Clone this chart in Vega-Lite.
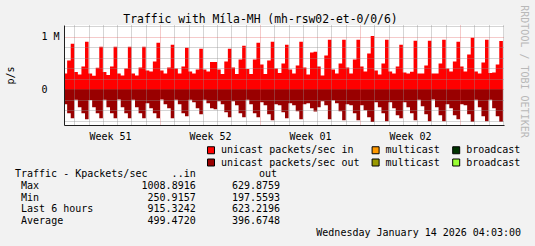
{
  "$schema": "https://vega.github.io/schema/vega-lite/v6.json",
  "width": 440,
  "height": 100,
  "autosize": {"type": "none"},
  "padding": {"left": 64, "top": 25, "right": 31, "bottom": 121},
  "background": "#f2f2f2",
  "config": {
    "view": {"fill": "white", "stroke": null},
    "font": "DejaVu Sans Mono",
    "text": {"font": "DejaVu Sans Mono", "fontSize": 10, "color": "black", "baseline": "middle"}
  },
  "title": {
    "text": "Traffic with Míla-MH (mh-rsw02-et-0/0/6)",
    "font": "DejaVu Sans Mono",
    "fontSize": 11.4,
    "fontWeight": "normal",
    "color": "black",
    "anchor": "middle",
    "frame": "group",
    "dx": -23.5,
    "dy": 13.5,
    "offset": -16,
    "baseline": "alphabetic"
  },
  "datasets": {
    "traffic": [
      {"t": "2025-12-14T06:00Z", "in": 297, "out": -291},
      {"t": "2025-12-14T12:00Z", "in": 544, "out": -462},
      {"t": "2025-12-14T18:00Z", "in": 861, "out": -557},
      {"t": "2025-12-15T00:00Z", "in": 323, "out": -205},
      {"t": "2025-12-15T06:00Z", "in": 278, "out": -348},
      {"t": "2025-12-15T12:00Z", "in": 430, "out": -462},
      {"t": "2025-12-15T18:00Z", "in": 899, "out": -576},
      {"t": "2025-12-16T00:00Z", "in": 297, "out": -210},
      {"t": "2025-12-16T06:00Z", "in": 250.9, "out": -348},
      {"t": "2025-12-16T12:00Z", "in": 405, "out": -462},
      {"t": "2025-12-16T18:00Z", "in": 804, "out": -557},
      {"t": "2025-12-17T00:00Z", "in": 323, "out": -205},
      {"t": "2025-12-17T06:00Z", "in": 266, "out": -348},
      {"t": "2025-12-17T12:00Z", "in": 430, "out": -462},
      {"t": "2025-12-17T18:00Z", "in": 804, "out": -557},
      {"t": "2025-12-18T00:00Z", "in": 297, "out": -197.6},
      {"t": "2025-12-18T06:00Z", "in": 259, "out": -348},
      {"t": "2025-12-18T12:00Z", "in": 392, "out": -462},
      {"t": "2025-12-18T18:00Z", "in": 804, "out": -557},
      {"t": "2025-12-19T00:00Z", "in": 297, "out": -205},
      {"t": "2025-12-19T06:00Z", "in": 259, "out": -348},
      {"t": "2025-12-19T12:00Z", "in": 411, "out": -462},
      {"t": "2025-12-19T18:00Z", "in": 804, "out": -557},
      {"t": "2025-12-20T00:00Z", "in": 354, "out": -272},
      {"t": "2025-12-20T06:00Z", "in": 335, "out": -367},
      {"t": "2025-12-20T12:00Z", "in": 525, "out": -462},
      {"t": "2025-12-20T18:00Z", "in": 880, "out": -557},
      {"t": "2025-12-21T00:00Z", "in": 354, "out": -200},
      {"t": "2025-12-21T06:00Z", "in": 297, "out": -291},
      {"t": "2025-12-21T12:00Z", "in": 411, "out": -367},
      {"t": "2025-12-21T18:00Z", "in": 842, "out": -557},
      {"t": "2025-12-22T00:00Z", "in": 392, "out": -205},
      {"t": "2025-12-22T06:00Z", "in": 297, "out": -291},
      {"t": "2025-12-22T12:00Z", "in": 430, "out": -462},
      {"t": "2025-12-22T18:00Z", "in": 785, "out": -519},
      {"t": "2025-12-23T00:00Z", "in": 335, "out": -205},
      {"t": "2025-12-23T06:00Z", "in": 297, "out": -253},
      {"t": "2025-12-23T12:00Z", "in": 373, "out": -367},
      {"t": "2025-12-23T18:00Z", "in": 766, "out": -481},
      {"t": "2025-12-24T00:00Z", "in": 373, "out": -205},
      {"t": "2025-12-24T06:00Z", "in": 335, "out": -272},
      {"t": "2025-12-24T12:00Z", "in": 513, "out": -367},
      {"t": "2025-12-24T18:00Z", "in": 513, "out": -386},
      {"t": "2025-12-25T00:00Z", "in": 373, "out": -234},
      {"t": "2025-12-25T06:00Z", "in": 285, "out": -291},
      {"t": "2025-12-25T12:00Z", "in": 525, "out": -443},
      {"t": "2025-12-25T18:00Z", "in": 766, "out": -538},
      {"t": "2025-12-26T00:00Z", "in": 411, "out": -234},
      {"t": "2025-12-26T06:00Z", "in": 285, "out": -310},
      {"t": "2025-12-26T12:00Z", "in": 563, "out": -462},
      {"t": "2025-12-26T18:00Z", "in": 823, "out": -538},
      {"t": "2025-12-27T00:00Z", "in": 380, "out": -205},
      {"t": "2025-12-27T06:00Z", "in": 285, "out": -291},
      {"t": "2025-12-27T12:00Z", "in": 563, "out": -462},
      {"t": "2025-12-27T18:00Z", "in": 880, "out": -538},
      {"t": "2025-12-28T00:00Z", "in": 468, "out": -253},
      {"t": "2025-12-28T06:00Z", "in": 285, "out": -310},
      {"t": "2025-12-28T12:00Z", "in": 544, "out": -481},
      {"t": "2025-12-28T18:00Z", "in": 899, "out": -595},
      {"t": "2025-12-29T00:00Z", "in": 392, "out": -291},
      {"t": "2025-12-29T06:00Z", "in": 304, "out": -310},
      {"t": "2025-12-29T12:00Z", "in": 487, "out": -443},
      {"t": "2025-12-29T18:00Z", "in": 842, "out": -557},
      {"t": "2025-12-30T00:00Z", "in": 373, "out": -272},
      {"t": "2025-12-30T06:00Z", "in": 297, "out": -310},
      {"t": "2025-12-30T12:00Z", "in": 449, "out": -424},
      {"t": "2025-12-30T18:00Z", "in": 899, "out": -576},
      {"t": "2025-12-31T00:00Z", "in": 411, "out": -291},
      {"t": "2025-12-31T06:00Z", "in": 278, "out": -272},
      {"t": "2025-12-31T12:00Z", "in": 696, "out": -367},
      {"t": "2025-12-31T18:00Z", "in": 709, "out": -430},
      {"t": "2026-01-01T00:00Z", "in": 430, "out": -348},
      {"t": "2026-01-01T06:00Z", "in": 259, "out": -234},
      {"t": "2026-01-01T12:00Z", "in": 639, "out": -310},
      {"t": "2026-01-01T18:00Z", "in": 937, "out": -576},
      {"t": "2026-01-02T00:00Z", "in": 373, "out": -215},
      {"t": "2026-01-02T06:00Z", "in": 297, "out": -272},
      {"t": "2026-01-02T12:00Z", "in": 487, "out": -424},
      {"t": "2026-01-02T18:00Z", "in": 937, "out": -595},
      {"t": "2026-01-03T00:00Z", "in": 411, "out": -291},
      {"t": "2026-01-03T06:00Z", "in": 297, "out": -310},
      {"t": "2026-01-03T12:00Z", "in": 563, "out": -462},
      {"t": "2026-01-03T18:00Z", "in": 937, "out": -595},
      {"t": "2026-01-04T00:00Z", "in": 430, "out": -310},
      {"t": "2026-01-04T06:00Z", "in": 335, "out": -405},
      {"t": "2026-01-04T12:00Z", "in": 677, "out": -538},
      {"t": "2026-01-04T18:00Z", "in": 1008.9, "out": -629.9},
      {"t": "2026-01-05T00:00Z", "in": 354, "out": -253},
      {"t": "2026-01-05T06:00Z", "in": 278, "out": -348},
      {"t": "2026-01-05T12:00Z", "in": 487, "out": -462},
      {"t": "2026-01-05T18:00Z", "in": 937, "out": -614},
      {"t": "2026-01-06T00:00Z", "in": 335, "out": -253},
      {"t": "2026-01-06T06:00Z", "in": 297, "out": -367},
      {"t": "2026-01-06T12:00Z", "in": 430, "out": -500},
      {"t": "2026-01-06T18:00Z", "in": 842, "out": -557},
      {"t": "2026-01-07T00:00Z", "in": 316, "out": -253},
      {"t": "2026-01-07T06:00Z", "in": 297, "out": -348},
      {"t": "2026-01-07T12:00Z", "in": 330, "out": -462},
      {"t": "2026-01-07T18:00Z", "in": 918, "out": -595},
      {"t": "2026-01-08T00:00Z", "in": 297, "out": -205},
      {"t": "2026-01-08T06:00Z", "in": 297, "out": -329},
      {"t": "2026-01-08T12:00Z", "in": 449, "out": -481},
      {"t": "2026-01-08T18:00Z", "in": 918, "out": -614},
      {"t": "2026-01-09T00:00Z", "in": 297, "out": -200},
      {"t": "2026-01-09T06:00Z", "in": 297, "out": -348},
      {"t": "2026-01-09T12:00Z", "in": 487, "out": -500},
      {"t": "2026-01-09T18:00Z", "in": 937, "out": -614},
      {"t": "2026-01-10T00:00Z", "in": 392, "out": -291},
      {"t": "2026-01-10T06:00Z", "in": 335, "out": -367},
      {"t": "2026-01-10T12:00Z", "in": 525, "out": -500},
      {"t": "2026-01-10T18:00Z", "in": 899, "out": -576},
      {"t": "2026-01-11T00:00Z", "in": 430, "out": -291},
      {"t": "2026-01-11T06:00Z", "in": 335, "out": -310},
      {"t": "2026-01-11T12:00Z", "in": 658, "out": -481},
      {"t": "2026-01-11T18:00Z", "in": 975, "out": -622},
      {"t": "2026-01-12T00:00Z", "in": 335, "out": -205},
      {"t": "2026-01-12T06:00Z", "in": 297, "out": -348},
      {"t": "2026-01-12T12:00Z", "in": 506, "out": -519},
      {"t": "2026-01-12T18:00Z", "in": 937, "out": -614},
      {"t": "2026-01-13T00:00Z", "in": 304, "out": -205},
      {"t": "2026-01-13T06:00Z", "in": 316, "out": -367},
      {"t": "2026-01-13T12:00Z", "in": 468, "out": -519},
      {"t": "2026-01-13T18:00Z", "in": 915.3, "out": -623.2},
      {"t": "2026-01-14T00:00Z", "in": 915.3, "out": -623.2}
    ],
    "stats": [
      {"stat": "Max", "in": 1008.8916, "out": 629.8759},
      {"stat": "Min", "in": 250.9157, "out": 197.5593},
      {"stat": "Last 6 hours", "in": 915.3242, "out": 623.2196},
      {"stat": "Average", "in": 499.4720, "out": 396.6748}
    ],
    "header": [
      {"label": "Traffic - Kpackets/sec", "in": "..in", "out": "out"}
    ],
    "stamp": [
      {"text": "Wednesday January 14 2026 04:03:00"}
    ]
  },
  "layer": [
    {
      "data": {"name": "traffic"},
      "mark": {"type": "area", "interpolate": "step-after", "clip": true},
      "encoding": {
        "x": {
          "field": "t",
          "type": "temporal",
          "scale": {"type": "utc", "domain": [1765694580000, 1768355700000]},
          "axis": {
            "orient": "bottom",
            "values": [
              1765756800000, 1765843200000, 1765929600000, 1765972800000, 1766016000000,
              1766102400000, 1766188800000, 1766275200000, 1766361600000, 1766448000000,
              1766534400000, 1766577600000, 1766620800000, 1766707200000, 1766793600000,
              1766880000000, 1766966400000, 1767052800000, 1767139200000, 1767182400000,
              1767225600000, 1767312000000, 1767398400000, 1767484800000, 1767571200000,
              1767657600000, 1767744000000, 1767787200000, 1767830400000, 1767916800000,
              1768003200000, 1768089600000, 1768176000000, 1768262400000, 1768348800000
            ],
            "grid": true,
            "gridDash": [1, 1],
            "gridColor": {"condition": {"test": "floor(datum.value / 86400000) % 7 == 3", "value": "rgba(222,79,79,0.6)"}, "value": "rgba(143,143,143,0.75)"},
            "gridOpacity": {"condition": {"test": "datum.value % 86400000 != 0", "value": 0}, "value": 1},
            "ticks": false,
            "tickSize": 0,
            "domain": true,
            "domainColor": "#1f1f1f",
            "labelExpr": "datum.value % 86400000 == 43200000 ? 'Week ' + utcFormat(datum.value, '%V') : ''",
            "labelOverlap": false,
            "labelFlush": false,
            "labelBound": false,
            "labelFont": "DejaVu Sans Mono",
            "labelFontSize": 10,
            "labelColor": "black",
            "labelPadding": 6,
            "title": null,
            "zindex": 1
          }
        },
        "y": {
          "field": "in",
          "type": "quantitative",
          "stack": null,
          "scale": {"domain": [-685, 1220], "nice": false, "zero": false},
          "axis": {
            "orient": "left",
            "values": [-600, -400, -200, 0, 200, 400, 600, 800, 1000, 1200],
            "grid": true,
            "gridDash": [1, 1],
            "gridColor": {"condition": {"test": "datum.value == 0 || datum.value == 1000", "value": "rgba(222,79,79,0.6)"}, "value": "rgba(143,143,143,0.75)"},
            "ticks": false,
            "tickSize": 0,
            "domain": true,
            "domainColor": "#1f1f1f",
            "labelExpr": "datum.value == 1000 ? '1 M' : datum.value == 0 ? '0' : ''",
            "labelAlign": "left",
            "labelPadding": 23,
            "labelFont": "DejaVu Sans Mono",
            "labelFontSize": 10,
            "labelColor": "black",
            "title": "p/s",
            "titleFont": "DejaVu Sans Mono",
            "titleFontSize": 10,
            "titleFontWeight": "normal",
            "titleColor": "black",
            "titlePadding": 26,
            "zindex": 1
          }
        },
        "color": {
          "datum": "unicast packets/sec in",
          "type": "nominal",
          "scale": {
            "domain": ["unicast packets/sec in", "multicast in", "broadcast in", "unicast packets/sec out", "multicast out", "broadcast out"],
            "range": ["#ff0000", "#ff9900", "#003300", "#990000", "#999900", "#99ff33"]
          },
          "legend": {
            "orient": "none",
            "legendX": 142,
            "legendY": 120,
            "columns": 3,
            "direction": "horizontal",
            "title": null,
            "padding": 0,
            "symbolType": "square",
            "symbolSize": 49,
            "symbolOpacity": 1,
            "symbolStrokeWidth": 1,
            "symbolStrokeColor": "black",
            "labelFont": "DejaVu Sans Mono",
            "labelFontSize": 10,
            "labelColor": "black",
            "labelOffset": 5,
            "columnPadding": 9.6,
            "rowPadding": 0.5,
            "labelExpr": "indexof(datum.label, 'unicast') == 0 ? datum.label : split(datum.label, ' ')[0]",
            "encode": {"symbols": {"update": {"stroke": {"value": "black"}, "strokeWidth": {"value": 1}, "opacity": {"value": 1}}}}
          }
        }
      }
    },
    {
      "data": {"name": "traffic"},
      "mark": {"type": "area", "interpolate": "step-after", "clip": true},
      "encoding": {
        "x": {"field": "t", "type": "temporal", "scale": {"type": "utc", "domain": [1765694580000, 1768355700000]}, "axis": null},
        "y": {
          "field": "out",
          "type": "quantitative",
          "stack": null,
          "scale": {"domain": [-685, 1220], "nice": false, "zero": false},
          "axis": {
            "orient": "right",
            "title": "RRDTOOL / TOBI OETIKER",
            "titleAngle": 90,
            "titleY": 46,
            "titleColor": "#b8b8b8",
            "titleFont": "DejaVu Sans Mono",
            "titleFontSize": 10,
            "titleFontWeight": "normal",
            "titlePadding": 14,
            "labels": false,
            "ticks": false,
            "domain": false,
            "grid": false
          }
        },
        "color": {"datum": "unicast packets/sec out", "type": "nominal"}
      }
    },
    {
      "data": {"name": "header"},
      "mark": {"type": "text", "align": "left"},
      "encoding": {
        "text": {"field": "label", "type": "nominal"},
        "x": {"datum": 0, "type": "quantitative", "scale": {"domain": [0, 84], "range": [-49, 457], "nice": false, "zero": false}, "axis": null},
        "y": {"datum": "header", "type": "nominal", "scale": {"type": "point", "domain": ["header", "Max", "Min", "Last 6 hours", "Average", "date"], "range": [148.7, 208.3], "padding": 0}, "axis": null}
      }
    },
    {
      "data": {"name": "header"},
      "mark": {"type": "text", "align": "right"},
      "encoding": {
        "text": {"field": "in", "type": "nominal"},
        "x": {"datum": 30, "type": "quantitative", "scale": {"domain": [0, 84], "range": [-49, 457], "nice": false, "zero": false}, "axis": null},
        "y": {"datum": "header", "type": "nominal", "scale": {"type": "point", "domain": ["header", "Max", "Min", "Last 6 hours", "Average", "date"], "range": [148.7, 208.3], "padding": 0}, "axis": null}
      }
    },
    {
      "data": {"name": "header"},
      "mark": {"type": "text", "align": "right"},
      "encoding": {
        "text": {"field": "out", "type": "nominal"},
        "x": {"datum": 43.5, "type": "quantitative", "scale": {"domain": [0, 84], "range": [-49, 457], "nice": false, "zero": false}, "axis": null},
        "y": {"datum": "header", "type": "nominal", "scale": {"type": "point", "domain": ["header", "Max", "Min", "Last 6 hours", "Average", "date"], "range": [148.7, 208.3], "padding": 0}, "axis": null}
      }
    },
    {
      "data": {"name": "stats"},
      "mark": {"type": "text", "align": "left"},
      "encoding": {
        "text": {"field": "stat", "type": "nominal"},
        "x": {"datum": 1, "type": "quantitative", "scale": {"domain": [0, 84], "range": [-49, 457], "nice": false, "zero": false}, "axis": null},
        "y": {"field": "stat", "type": "nominal", "scale": {"type": "point", "domain": ["header", "Max", "Min", "Last 6 hours", "Average", "date"], "range": [148.7, 208.3], "padding": 0}, "axis": null}
      }
    },
    {
      "data": {"name": "stats"},
      "mark": {"type": "text", "align": "right"},
      "encoding": {
        "text": {"field": "in", "type": "quantitative", "format": ".4f"},
        "x": {"datum": 30, "type": "quantitative", "scale": {"domain": [0, 84], "range": [-49, 457], "nice": false, "zero": false}, "axis": null},
        "y": {"field": "stat", "type": "nominal", "scale": {"type": "point", "domain": ["header", "Max", "Min", "Last 6 hours", "Average", "date"], "range": [148.7, 208.3], "padding": 0}, "axis": null}
      }
    },
    {
      "data": {"name": "stats"},
      "mark": {"type": "text", "align": "right"},
      "encoding": {
        "text": {"field": "out", "type": "quantitative", "format": ".4f"},
        "x": {"datum": 44, "type": "quantitative", "scale": {"domain": [0, 84], "range": [-49, 457], "nice": false, "zero": false}, "axis": null},
        "y": {"field": "stat", "type": "nominal", "scale": {"type": "point", "domain": ["header", "Max", "Min", "Last 6 hours", "Average", "date"], "range": [148.7, 208.3], "padding": 0}, "axis": null}
      }
    },
    {
      "data": {"name": "stamp"},
      "mark": {"type": "text", "align": "right"},
      "encoding": {
        "text": {"field": "text", "type": "nominal"},
        "x": {"datum": 84, "type": "quantitative", "scale": {"domain": [0, 84], "range": [-49, 457], "nice": false, "zero": false}, "axis": null},
        "y": {"datum": "date", "type": "nominal", "scale": {"type": "point", "domain": ["header", "Max", "Min", "Last 6 hours", "Average", "date"], "range": [148.7, 208.3], "padding": 0}, "axis": null}
      }
    }
  ],
  "resolve": {
    "scale": {"x": "independent", "y": "independent"},
    "axis": {"x": "independent", "y": "independent"}
  }
}
